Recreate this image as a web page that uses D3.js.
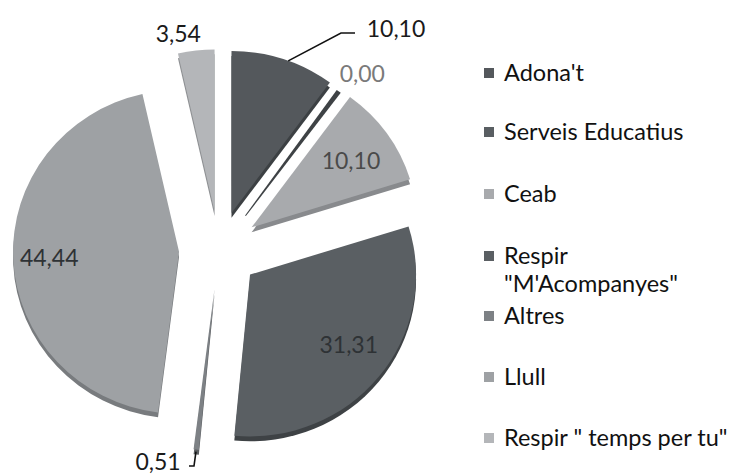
<!DOCTYPE html>
<html><head><meta charset="utf-8">
<script src="https://cdn.jsdelivr.net/npm/d3@7"></script>
<style>body{margin:0;background:#fff}svg{display:block}</style>
</head><body>
<svg id="c" width="741" height="475"></svg>
<script>
const categories = ["Adona't","Serveis Educatius","Ceab","Respir \"M'Acompanyes\"","Altres","Llull","Respir \" temps per tu\""];
const values = [10.10, 0.00, 10.10, 31.31, 0.51, 44.44, 3.54];
const valueLabels = ["10,10","0,00","10,10","31,31","0,51","44,44","3,54"];
const legendLines = [["Adona't"],["Serveis Educatius"],["Ceab"],["Respir","\"M'Acompanyes\""],["Altres"],["Llull"],["Respir \" temps per tu\""]];
const colors = ["#54585c","#595e62","#a8aaad","#5a5f63","#7d8185","#9ea1a4","#b4b6b9"];
const sideColors = ["#3c4043","#3e4245","#888a8d","#3e4245","#5c5f62","#787b7e","#8e9093"];

const svg = d3.select("#c");
const font = "Lato, 'Open Sans', sans-serif";
const cx = 219, cy = 250, R = 166, explode = 40, depth = 5, sy = 0.975;

const pie = d3.pie().sort(null).value(d => d)(values);
const arc = d3.arc().innerRadius(0).outerRadius(R);
const off = a => { const m = (a.startAngle + a.endAngle) / 2; return [explode * Math.sin(m), -explode * Math.cos(m)]; };

const g = svg.append("g").attr("transform", `translate(${cx},${cy}) scale(1,${sy})`);

// side (depth) layer
pie.forEach((a, i) => {
  const [ox, oy] = off(a);
  if (a.endAngle - a.startAngle > 1e-6) {
    g.append("path").attr("d", arc(a)).attr("fill", sideColors[i])
      .attr("transform", `translate(${ox},${oy + depth})`);
  }
});
// top layer
pie.forEach((a, i) => {
  const [ox, oy] = off(a);
  if (a.endAngle - a.startAngle > 1e-6) {
    g.append("path").attr("d", arc(a)).attr("fill", colors[i])
      .attr("transform", `translate(${ox},${oy})`);
  } else {
    // zero-value slice: visible only as its thin side wall
    const ang = a.startAngle;
    const r0 = 4, r1 = R - 4;
    const px = Math.cos(ang), py = Math.sin(ang);
    const p0 = [ox + r0 * Math.sin(ang), oy - r0 * Math.cos(ang)];
    const p1 = [ox + r1 * Math.sin(ang), oy - r1 * Math.cos(ang)];
    g.append("path")
      .attr("d", `M${p0[0]},${p0[1]} L${p1[0] - 2.5 * px},${p1[1] - 2.5 * py} L${p1[0] + 2.5 * px},${p1[1] + 2.5 * py} L${p0[0] + 1 * px},${p0[1] + 1 * py}Z`)
      .attr("fill", sideColors[i]);
  }
});

// value labels
const pt = (a, r, dx = 0, dy = 0) => {
  const m = (a.startAngle + a.endAngle) / 2, [ox, oy] = off(a);
  return [cx + ox + r * Math.sin(m) + dx, cy + (oy - r * Math.cos(m)) * sy + dy];
};
const labelCfg = [
  {pos: [396, 29], color: "#1a1a1a"},
  {r: 195, color: "#7a7a7a", dx: 4, dy: 8},
  {r: 122, color: "#4a4a4a", dy: 3},
  {r: 122, color: "#2e3235", dx: 4, dy: -5},
  {pos: [158, 462], color: "#1a1a1a"},
  {r: 130, color: "#2e3235"},
  {r: 183, color: "#1a1a1a", dx: -16}
];
pie.forEach((a, i) => {
  const c = labelCfg[i];
  const p = c.pos ? c.pos : pt(a, c.r, c.dx || 0, c.dy || 0);
  svg.append("text").attr("x", p[0]).attr("y", p[1]).attr("dy", "0.35em")
    .attr("text-anchor", "middle").attr("font-family", font).attr("font-size", 23)
    .attr("fill", c.color).text(valueLabels[i]);
});
// leader lines
{
  const a = pie[0];
  const m = a.startAngle + (a.endAngle - a.startAngle) * 0.55, [ox, oy] = off(a);
  const sx0 = cx + ox + R * Math.sin(m), sy0 = cy + (oy - R * Math.cos(m)) * sy;
  svg.append("path").attr("d", `M${sx0},${sy0} L341,33 L355,33`).attr("fill", "none")
    .attr("stroke", "#111").attr("stroke-width", 1.6);
}
{
  const a = pie[4];
  const p = pt(a, R + 2, 0, 0);
  svg.append("path").attr("d", `M${p[0]},${p[1]} L${p[0] - 2},466 L189,466`).attr("fill", "none")
    .attr("stroke", "#111").attr("stroke-width", 1.6);
}

// legend
const lg = svg.append("g");
const legY = [73, 132, 194, 256, 316, 377, 438];
legendLines.forEach((lines, i) => {
  lg.append("rect").attr("x", 484).attr("y", legY[i] - 5).attr("width", 10).attr("height", 10)
    .attr("fill", colors[i]);
  lines.forEach((t, j) => {
    lg.append("text").attr("x", 504).attr("y", legY[i] + j * 28).attr("dy", "0.35em")
      .attr("font-family", font).attr("font-size", 23.5).attr("fill", "#111").text(t);
  });
});
</script>
</body></html>
